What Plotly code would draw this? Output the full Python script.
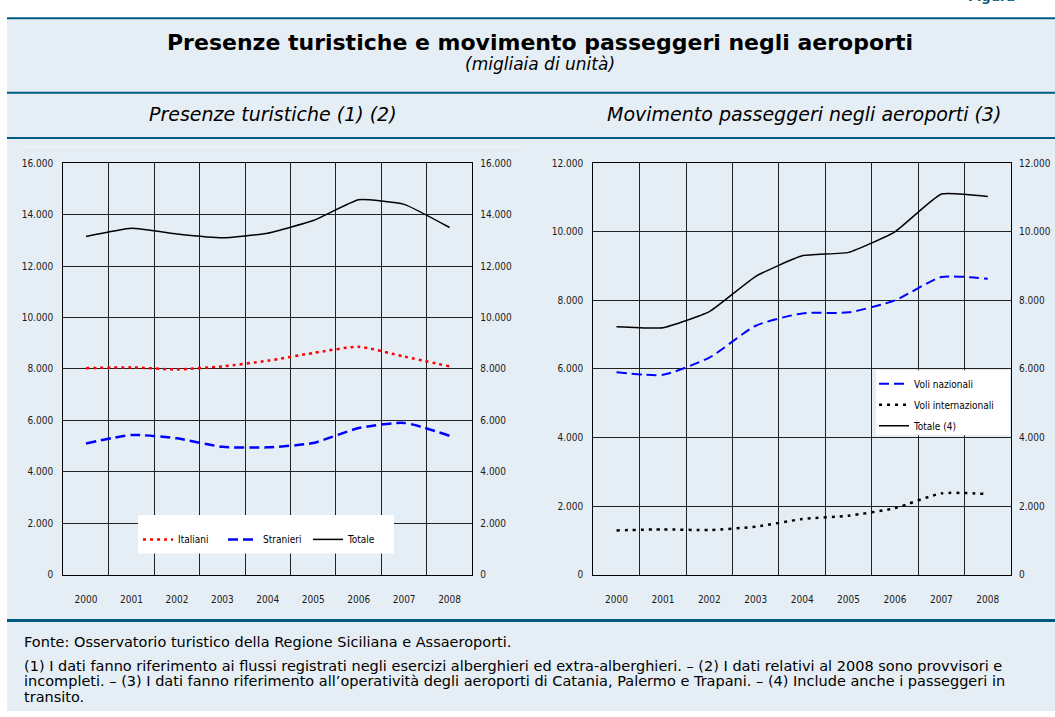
import plotly.graph_objects as go

W, H = 1055, 717

anni = ["2000", "2001", "2002", "2003", "2004", "2005", "2006", "2007", "2008"]

# presenze turistiche (migliaia)
italiani = [8030, 8060, 7980, 8100, 8320, 8620, 8860, 8480, 8100]
stranieri = [5100, 5430, 5300, 4970, 4950, 5120, 5700, 5900, 5400]
totale_presenze = [13150, 13470, 13250, 13100, 13280, 13770, 14580, 14400, 13500]

# movimento passeggeri (migliaia)
voli_nazionali = [5900, 5830, 6330, 7260, 7620, 7650, 8000, 8680, 8630]
voli_internazionali = [1290, 1320, 1300, 1400, 1620, 1720, 1940, 2370, 2350]
totale_passeggeri = [7230, 7200, 7670, 8700, 9300, 9400, 10000, 11100, 11030]

BG = "#E6EEF5"
LINEA = "#005B84"
NARROW = "DejaVu Sans Condensed, Liberation Sans Narrow, sans-serif"
SANS = "DejaVu Sans, Liberation Sans, sans-serif"


def px(x):
    return x / W


def py(y):
    return 1 - y / H


fig = go.Figure()

fig.add_trace(go.Scatter(x=anni, y=italiani, name="Italiani", mode="lines",
                         line=dict(color="#FF0000", width=2.5, dash="3px,4px", shape="spline", smoothing=0.6),
                         xaxis="x", yaxis="y", legend="legend"))
fig.add_trace(go.Scatter(x=anni, y=stranieri, name="Stranieri", mode="lines",
                         line=dict(color="#0000FF", width=2.5, dash="10px,5px", shape="spline", smoothing=0.6),
                         xaxis="x", yaxis="y", legend="legend"))
fig.add_trace(go.Scatter(x=anni, y=totale_presenze, name="Totale", mode="lines",
                         line=dict(color="#000000", width=1.5, shape="spline", smoothing=0.4),
                         xaxis="x", yaxis="y", legend="legend"))

fig.add_trace(go.Scatter(x=anni, y=voli_nazionali, name="Voli nazionali", mode="lines",
                         line=dict(color="#0000FF", width=2, dash="10px,5px", shape="spline", smoothing=0.6),
                         xaxis="x2", yaxis="y2", legend="legend2", legendgroup="a"))
fig.add_trace(go.Scatter(x=anni, y=voli_internazionali, name="Voli internazionali", mode="lines",
                         line=dict(color="#000000", width=2.5, dash="3px,5px", shape="spline", smoothing=0.6),
                         xaxis="x2", yaxis="y2", legend="legend2", legendgroup="b"))
fig.add_trace(go.Scatter(x=anni, y=totale_passeggeri, name="Totale (4)", mode="lines",
                         line=dict(color="#000000", width=1.5, shape="spline", smoothing=0.4),
                         xaxis="x2", yaxis="y2", legend="legend2", legendgroup="c"))

# tracce invisibili per avere le etichette anche sull'asse destro
fig.add_trace(go.Scatter(x=anni, y=totale_presenze, mode="lines", line=dict(width=0), opacity=0,
                         showlegend=False, hoverinfo="skip", xaxis="x", yaxis="y3"))
fig.add_trace(go.Scatter(x=anni, y=totale_passeggeri, mode="lines", line=dict(width=0), opacity=0,
                         showlegend=False, hoverinfo="skip", xaxis="x2", yaxis="y4"))

tick_font = dict(family=NARROW, size=10, color="#1a1a1a")

xcommon = dict(type="category", range=[-0.5, 8.5], tickson="boundaries", showgrid=True,
               gridcolor="#222222", gridwidth=1, showline=True, linecolor="#000000", linewidth=1.3,
               mirror=True, ticks="", ticklabelstandoff=15, tickfont=tick_font, zeroline=False)
ycommon = dict(showgrid=True, gridcolor="#222222", gridwidth=1, showline=True, linecolor="#000000",
               linewidth=1.3, mirror=True, ticks="", tickformat=",.0f", ticklabelstandoff=7,
               tickfont=tick_font, zeroline=False)
yright = dict(side="right", showgrid=False, showline=False, ticks="", tickformat=",.0f",
              ticklabelstandoff=7, tickfont=tick_font, zeroline=False)

legend_font = dict(family=NARROW, size=10, color="#000000")

fig.update_layout(
    width=W, height=H,
    margin=dict(l=0, r=0, t=0, b=0),
    paper_bgcolor="#FFFFFF",
    plot_bgcolor="#FFFFFF",
    separators=",.",
    font=dict(family=SANS, color="#000000"),
    xaxis=dict(domain=[px(63.3), px(472.3)], anchor="y", **xcommon),
    yaxis=dict(domain=[py(578.5), py(160.7)], anchor="x", range=[0, 16000], dtick=2000, **ycommon),
    yaxis3=dict(overlaying="y", anchor="x", range=[0, 16000], dtick=2000, **yright),
    xaxis2=dict(domain=[px(593.3), px(1011)], anchor="y2", **xcommon),
    yaxis2=dict(domain=[py(578.5), py(160.7)], anchor="x2", range=[0, 12000], dtick=2000, **ycommon),
    yaxis4=dict(overlaying="y2", anchor="x2", range=[0, 12000], dtick=2000, **yright),
    legend=dict(orientation="h", x=px(138), y=py(528), xanchor="left", yanchor="top",
                bgcolor="rgba(0,0,0,0)", borderwidth=0, font=legend_font,
                entrywidth=40, itemwidth=30, tracegroupgap=0),
    legend2=dict(orientation="v", x=px(874), y=py(370), xanchor="left", yanchor="top",
                 bgcolor="rgba(0,0,0,0)", borderwidth=0, font=legend_font,
                 itemwidth=30, tracegroupgap=2),
)

shapes = [
    dict(type="rect", xref="paper", yref="paper", x0=px(7), x1=1, y0=0, y1=py(13.5),
         fillcolor=BG, line=dict(width=0), layer="below"),
    dict(type="line", xref="paper", yref="paper", x0=px(7), x1=1, y0=py(13.5), y1=py(13.5),
         line=dict(color=LINEA, width=2)),
    dict(type="line", xref="paper", yref="paper", x0=px(7), x1=1, y0=py(89), y1=py(89),
         line=dict(color=LINEA, width=2)),
    dict(type="line", xref="paper", yref="paper", x0=px(7), x1=1, y0=py(135), y1=py(135),
         line=dict(color=LINEA, width=2)),
    dict(type="line", xref="paper", yref="paper", x0=px(7), x1=1, y0=py(625), y1=py(625),
         line=dict(color=LINEA, width=3)),
    dict(type="line", xref="paper", yref="paper", x0=px(22), x1=px(523), y0=py(144), y1=py(144),
         line=dict(color="#F4F8FB", width=1)),
    # riquadri bianchi delle legende
    dict(type="rect", xref="paper", yref="paper", x0=px(138), x1=px(394), y0=py(557), y1=py(518),
         fillcolor="#FFFFFF", line=dict(width=0), layer="above"),
    dict(type="rect", xref="paper", yref="paper", x0=px(876), x1=px(1010), y0=py(437), y1=py(371),
         fillcolor="#FFFFFF", line=dict(width=0), layer="above"),
]

annotations = [
    dict(text="<b>Figura</b>", x=px(966), y=py(1.5), xanchor="left", yanchor="bottom",
         font=dict(family=SANS, size=13, color=LINEA)),
    dict(text="<b>Presenze turistiche e movimento passeggeri negli aeroporti</b>",
         x=px(540), y=py(38), xanchor="center", yanchor="middle",
         font=dict(family=SANS, size=22, color="#000000")),
    dict(text="<i>(migliaia di unità)</i>", x=px(540), y=py(60), xanchor="center", yanchor="middle",
         font=dict(family=SANS, size=17, color="#000000")),
    dict(text="<i>Presenze turistiche (1) (2)</i>", x=px(273), y=py(111), xanchor="center",
         yanchor="middle", font=dict(family=SANS, size=19, color="#000000")),
    dict(text="<i>Movimento passeggeri negli aeroporti (3)</i>", x=px(804), y=py(111),
         xanchor="center", yanchor="middle", font=dict(family=SANS, size=19, color="#000000")),
]

note = [
    ("Fonte: Osservatorio turistico della Regione Siciliana e Assaeroporti.", 647),
    ("(1) I dati fanno riferimento ai flussi registrati negli esercizi alberghieri ed extra-alberghieri. "
     "– (2) I dati relativi al 2008 sono provvisori e", 671),
    ("incompleti. – (3) I dati fanno riferimento all’operatività degli aeroporti di Catania, Palermo e "
     "Trapani. – (4) Include anche i passeggeri in", 687),
    ("transito.", 703),
]
for testo, ypos in note:
    annotations.append(dict(text=testo, x=px(22), y=py(ypos), xanchor="left", yanchor="middle",
                            font=dict(family=SANS, size=14.5, color="#000000")))

for a in annotations:
    a.setdefault("xref", "paper")
    a.setdefault("yref", "paper")
    a.setdefault("showarrow", False)

fig.update_layout(shapes=shapes, annotations=annotations)

fig.write_html("out.html", config={"displayModeBar": False},
               post_script="document.body.style.margin='0px';")
